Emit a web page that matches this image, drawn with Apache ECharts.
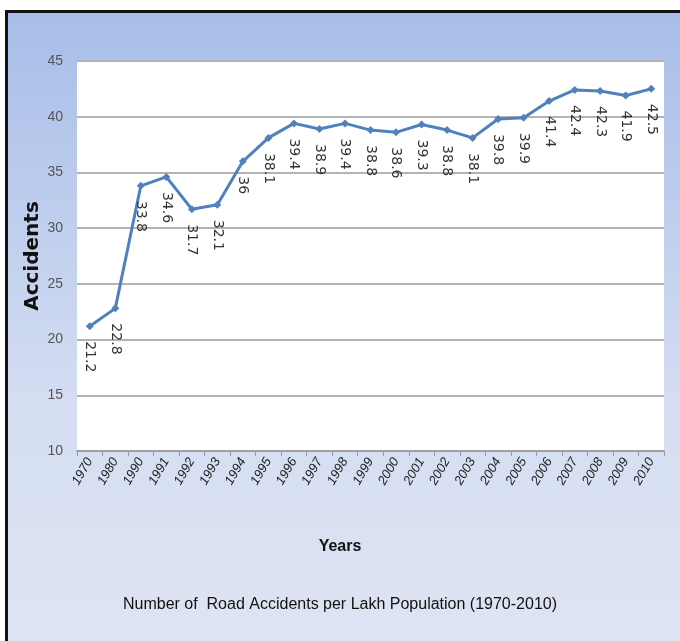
<!DOCTYPE html>
<html><head><meta charset="utf-8">
<script src="https://cdn.jsdelivr.net/npm/echarts@6/dist/echarts.min.js"></script>
<style>html,body{margin:0;padding:0;background:#fff;}#c{width:680px;height:641px;}</style>
</head><body><div id="c"></div>
<script>
const years = ['1970','1980','1990','1991','1992','1993','1994','1995','1996','1997','1998','1999','2000','2001','2002','2003','2004','2005','2006','2007','2008','2009','2010'];
const accidents = [21.2,22.8,33.8,34.6,31.7,32.1,36,38.1,39.4,38.9,39.4,38.8,38.6,39.3,38.8,38.1,39.8,39.9,41.4,42.4,42.3,41.9,42.5];
const yTicks = {min:10, max:45, interval:5};
const titleText = 'Number of  Road Accidents per Lakh Population (1970-2010)';
const xName = 'Years';
const yName = 'Accidents';

const chart = echarts.init(document.getElementById('c'));
chart.setOption({
  animation:false,
  graphic:[
    {type:'rect', z:-10, shape:{x:6.5,y:11.5,width:700,height:700},
     style:{fill:new echarts.graphic.LinearGradient(0,0,0,1,[{offset:0,color:'#a7bde8'},{offset:0.55,color:'#d4ddf2'},{offset:1,color:'#e1e6f3'}]), stroke:'#111', lineWidth:3}},
    {type:'text', left:'center', top:597, z:10,
     style:{text:titleText, font:'16px "Liberation Sans", sans-serif', fill:'#111'}},
    {type:'text', left:'center', top:539,
     style:{text:xName, font:'bold 16px "Liberation Sans", sans-serif', fill:'#111'}},
    {type:'text', x:33, y:256, rotation:Math.PI/2, z:10,
     style:{text:yName, font:'bold 20px "DejaVu Sans", sans-serif', fill:'#111', align:'center', verticalAlign:'middle'}}
  ],
  grid:{left:77, right:16, top:61, bottom:190, backgroundColor:'#fff', show:true, borderWidth:0},
  xAxis:{type:'category', data:years, boundaryGap:true,
    axisLine:{lineStyle:{color:'#999', width:1.5}},
    axisTick:{show:true, alignWithLabel:false, lineStyle:{color:'#999'}},
    axisLabel:{rotate:60, fontSize:13, color:'#222', fontStyle:'italic', fontFamily:'"Liberation Sans", sans-serif', interval:0, margin:8}},
  yAxis:{type:'value', min:yTicks.min, max:yTicks.max, interval:yTicks.interval,
    axisLine:{show:false}, axisTick:{show:false},
    axisLabel:{fontSize:14, color:'#555', fontFamily:'"Liberation Sans", sans-serif', margin:14},
    splitLine:{lineStyle:{color:'#b3b3b3', width:2}}},
  series:[{type:'line', data:accidents,
    lineStyle:{color:'#4f81bd', width:3},
    itemStyle:{color:'#4f81bd'},
    symbol:'diamond', symbolSize:8,
    label:{show:true, position:'bottom', rotate:-90, distance:11, align:'left', verticalAlign:'middle',
      fontSize:14, color:'#333', fontFamily:'DejaVu Sans'}}]
});
</script></body></html>
